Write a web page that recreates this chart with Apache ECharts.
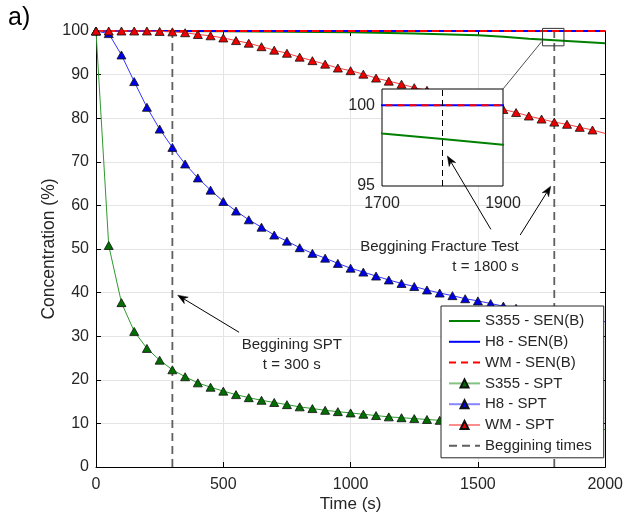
<!DOCTYPE html>
<html>
<head>
<meta charset="utf-8">
<script src="https://cdn.jsdelivr.net/npm/echarts@6/dist/echarts.min.js"></script>
<style>
  html, body { margin: 0; padding: 0; background: #fff; }
  #chart { width: 626px; height: 518px; }
</style>
</head>
<body>
<div id="chart"></div>
<script>
// Sampling times of the SPT curves (s)
const timeS = [0, 50, 100, 150, 200, 250, 300, 350, 400, 450, 500, 550, 600, 650, 700, 750, 800, 850, 900, 950,
  1000, 1050, 1100, 1150, 1200, 1250, 1300, 1350, 1400, 1450, 1500, 1550, 1600, 1650, 1700, 1750, 1800, 1850, 1900, 1950, 2000];
// Hydrogen concentration (%) during the SPT tests
const s355Spt = [100, 50.8, 37.7, 31.1, 27.2, 24.5, 22.3, 20.7, 19.3, 18.3, 17.4, 16.6, 15.9, 15.3, 14.8, 14.3, 13.8, 13.4, 13.0, 12.7,
  12.4, 12.1, 11.8, 11.5, 11.3, 11.1, 10.9, 10.7, 10.5, 10.3, 10.1, 9.9, 9.7, 9.6, 9.4, 9.3, 9.1, 9.0, 8.9, 8.7, 8.6];
const h8Spt = [100, 99.4, 94.5, 88.4, 82.5, 77.5, 73.3, 69.5, 66.3, 63.5, 60.9, 58.7, 56.7, 55.0, 53.2, 51.8, 50.3, 49.0, 47.9, 46.7,
  45.6, 44.7, 43.8, 42.9, 42.1, 41.4, 40.6, 39.9, 39.3, 38.6, 38.1, 37.5, 36.9, 36.4, 35.9, 35.4, 34.9, 34.5, 34.1, 33.7, 33.3];
const wmSpt = [100, 100, 100, 100, 100, 99.9, 99.8, 99.6, 99.2, 98.9, 98.4, 97.8, 97.2, 96.4, 95.6, 94.9, 94.0, 93.2, 92.4, 91.5,
  90.9, 90.1, 89.2, 88.5, 87.8, 87.0, 86.4, 85.6, 84.9, 84.1, 83.4, 82.7, 82.0, 81.3, 80.5, 79.8, 79.1, 78.6, 77.9, 77.3, 76.5];

// Sampling times and concentration (%) of the SEN(B) specimens
const senTime = [0, 250, 500, 750, 1000, 1250, 1500, 1600, 1700, 1800, 1900, 2000];
const s355Sen = [100, 100, 99.95, 99.85, 99.7, 99.45, 99.0, 98.7, 98.25, 97.9, 97.55, 97.2];
const h8Sen = [100, 100, 100, 100, 100, 100, 100, 100, 100, 100, 100, 100];
const wmSen = [100, 100, 100, 100, 100, 100, 100, 100, 100, 100, 100, 100];

// Start of each test (s)
const sptStart = 300;
const fractureStart = 1800;

const legendNames = ['S355 - SEN(B)', 'H8 - SEN(B)', 'WM - SEN(B)', 'S355 - SPT', 'H8 - SPT', 'WM - SPT', 'Beggining times'];

const FONT = 'Liberation Sans, Arial, Helvetica, sans-serif';
const TXT = '#262626';

const pairs = (xs, ys) => xs.map((x, i) => [x, ys[i]]);
// SPT markers stop at 1950 s; the curve itself runs to the axis end
const sptData = (ys) => timeS.map((t, i) => (t === 2000 ? { value: [t, ys[i]], symbol: 'none' } : [t, ys[i]]));
const plain = (v) => String(v);

const chart = echarts.init(document.getElementById('chart'), null, { renderer: 'canvas' });

const mainAxisX = {
  type: 'value', gridIndex: 0, min: 0, max: 2000, interval: 500,
  axisLine: { show: true, onZero: false, lineStyle: { color: '#000', width: 1 } },
  axisTick: { show: true, inside: true, length: 5, lineStyle: { color: '#000' } },
  splitLine: { show: true, lineStyle: { color: '#e4e4e4', width: 1 } }
};
const mainAxisY = {
  type: 'value', gridIndex: 0, min: 0, max: 100, interval: 10,
  axisLine: { show: true, onZero: false, lineStyle: { color: '#000', width: 1 } },
  axisTick: { show: true, inside: true, length: 5, lineStyle: { color: '#000' } },
  splitLine: { show: true, lineStyle: { color: '#e4e4e4', width: 1 } }
};

const option = {
  animation: false,
  backgroundColor: '#fff',
  textStyle: { fontFamily: FONT },
  grid: [
    { left: 96, top: 31, right: 18, bottom: 51, show: false },
    { left: 382, top: 89, width: 121, height: 97, show: true, backgroundColor: '#fff', borderColor: '#000', borderWidth: 1, z: 10 }
  ],
  xAxis: [
    Object.assign({}, mainAxisX, {
      position: 'bottom',
      name: 'Time (s)', nameLocation: 'middle', nameGap: 29, nameMoveOverlap: false,
      nameTextStyle: { fontSize: 17, color: TXT, fontFamily: FONT },
      axisLabel: { fontSize: 16, color: TXT, margin: 10, fontFamily: FONT, formatter: plain }
    }),
    Object.assign({}, mainAxisX, {
      position: 'top', axisLabel: { show: false }, splitLine: { show: false }
    }),
    {
      type: 'value', gridIndex: 1, min: 1700, max: 1900, interval: 100, z: 11,
      axisLine: { show: false }, axisTick: { show: false }, splitLine: { show: false },
      axisLabel: {
        fontSize: 16, color: TXT, margin: 10, fontFamily: FONT,
        formatter: (v) => (v === 1700 || v === 1900 ? String(v) : '')
      }
    }
  ],
  yAxis: [
    Object.assign({}, mainAxisY, {
      position: 'left',
      name: 'Concentration (%)', nameLocation: 'middle', nameGap: 38, nameRotate: 90, nameMoveOverlap: false,
      nameTextStyle: { fontSize: 17.5, color: TXT, fontFamily: FONT },
      axisLabel: { fontSize: 16, color: TXT, margin: 7, fontFamily: FONT, formatter: plain }
    }),
    Object.assign({}, mainAxisY, {
      position: 'right', axisLabel: { show: false }, splitLine: { show: false }
    }),
    {
      type: 'value', gridIndex: 1, min: 95, max: 101, interval: 5, z: 11,
      axisLine: { show: false }, axisTick: { show: false }, splitLine: { show: false },
      axisLabel: {
        fontSize: 16, color: TXT, margin: 7, fontFamily: FONT,
        formatter: (v) => (v === 95 || v === 100 ? String(v) : '')
      }
    }
  ],
  legend: {
    data: legendNames.map((n) => (n.indexOf('SEN') >= 0 || n === 'Beggining times')
      ? { name: n, itemStyle: { opacity: 0 } } : { name: n, lineStyle: { opacity: 0.6 } }),
    orient: 'vertical',
    left: 441, top: 306,
    itemWidth: 31, itemHeight: 10, itemGap: 2.8,
    padding: [6, 12, 3, 7],
    backgroundColor: '#fff', borderColor: '#262626', borderWidth: 1, borderRadius: 0,
    textStyle: { fontSize: 15, color: TXT, fontFamily: FONT, lineHeight: 18 },
    selectedMode: false
  },
  series: [
    {
      name: 'Beggining times', type: 'line', xAxisIndex: 0, yAxisIndex: 0, symbol: 'none', clip: false, z: 1,
      data: [[sptStart, 0], [sptStart, 100]],
      lineStyle: { color: '#5f5f5f', width: 1.8, type: [8, 5] }
    },
    {
      name: 'Beggining times', type: 'line', xAxisIndex: 0, yAxisIndex: 0, symbol: 'none', clip: false, z: 1,
      data: [[fractureStart, 0], [fractureStart, 100]],
      lineStyle: { color: '#5f5f5f', width: 1.8, type: [8, 5] }
    },
    {
      name: 'S355 - SEN(B)', type: 'line', xAxisIndex: 0, yAxisIndex: 0, symbol: 'none', clip: false,
      data: pairs(senTime, s355Sen), lineStyle: { color: '#008000', width: 2 }, itemStyle: { color: '#008000' }
    },
    {
      name: 'H8 - SEN(B)', type: 'line', xAxisIndex: 0, yAxisIndex: 0, symbol: 'none', clip: false,
      data: pairs(senTime, h8Sen), lineStyle: { color: '#0000ff', width: 2 }, itemStyle: { color: '#0000ff' }
    },
    {
      name: 'WM - SEN(B)', type: 'line', xAxisIndex: 0, yAxisIndex: 0, symbol: 'none', clip: false,
      data: pairs(senTime, wmSen), lineStyle: { color: '#ff0000', width: 2, type: [7, 5] }, itemStyle: { color: '#ff0000' }
    },
    {
      name: 'S355 - SPT', type: 'line', xAxisIndex: 0, yAxisIndex: 0, clip: false, z: 3,
      symbol: 'triangle', symbolSize: [9, 8], showAllSymbol: true,
      data: sptData(s355Spt),
      lineStyle: { color: '#2e9a2e', width: 1 },
      itemStyle: { color: '#006f00', borderColor: '#111', borderWidth: 0.8 }
    },
    {
      name: 'H8 - SPT', type: 'line', xAxisIndex: 0, yAxisIndex: 0, clip: false, z: 3,
      symbol: 'triangle', symbolSize: [9, 8], showAllSymbol: true,
      data: sptData(h8Spt),
      lineStyle: { color: '#3535ff', width: 1 },
      itemStyle: { color: '#0000e6', borderColor: '#111', borderWidth: 0.8 }
    },
    {
      name: 'WM - SPT', type: 'line', xAxisIndex: 0, yAxisIndex: 0, clip: false, z: 3,
      symbol: 'triangle', symbolSize: [9, 8], showAllSymbol: true,
      data: sptData(wmSpt),
      lineStyle: { color: '#ff3f3f', width: 1 },
      itemStyle: { color: '#ee0000', borderColor: '#111', borderWidth: 0.8 }
    },
    // Detail view around the fracture test start
    {
      name: 'inset S355', type: 'line', xAxisIndex: 2, yAxisIndex: 2, symbol: 'none', z: 12,
      data: pairs(senTime, s355Sen), lineStyle: { color: '#008000', width: 2 }
    },
    {
      name: 'inset H8', type: 'line', xAxisIndex: 2, yAxisIndex: 2, symbol: 'none', z: 12,
      data: pairs(senTime, h8Sen), lineStyle: { color: '#0000ff', width: 2 }
    },
    {
      name: 'inset WM', type: 'line', xAxisIndex: 2, yAxisIndex: 2, symbol: 'none', z: 12,
      data: pairs(senTime, wmSen), lineStyle: { color: '#ff0000', width: 2, type: [7, 5] }
    },
    {
      name: 'inset start', type: 'line', xAxisIndex: 2, yAxisIndex: 2, symbol: 'none', z: 12,
      data: [[fractureStart, 95], [fractureStart, 101]], lineStyle: { color: '#000', width: 1, type: [6, 4] }
    }
  ]
};

chart.setOption(option);

// Annotations placed from data coordinates
const toMain = (p) => chart.convertToPixel({ gridIndex: 0 }, p);
const toInset = (p) => chart.convertToPixel({ gridIndex: 1 }, p);

function arrow(p0, p1) {
  const dx = p1[0] - p0[0], dy = p1[1] - p0[1];
  const L = Math.hypot(dx, dy), ux = dx / L, uy = dy / L;
  const hl = 10, hw = 3.8;
  const bx = p1[0] - ux * hl, by = p1[1] - uy * hl;
  const nx = p1[0] - ux * (hl - 3), ny = p1[1] - uy * (hl - 3);
  return [
    { type: 'line', z: 20, shape: { x1: p0[0], y1: p0[1], x2: nx, y2: ny }, style: { stroke: '#000', lineWidth: 1 } },
    { type: 'polygon', z: 20, shape: { points: [p1, [bx - uy * hw, by + ux * hw], [nx, ny], [bx + uy * hw, by - ux * hw]] },
      style: { fill: '#000', stroke: '#000', lineWidth: 0.5 } }
  ];
}

const zoomA = toMain([1754, 100.6]);
const zoomB = toMain([1838, 96.6]);
const graphics = [
  { type: 'text', z: 20, left: 8, top: 6, style: { text: 'a)', fontSize: 25, fontFamily: FONT, fill: '#000' } },
  { type: 'rect', z: 20, shape: { x: zoomA[0], y: zoomA[1], width: zoomB[0] - zoomA[0], height: zoomB[1] - zoomA[1] },
    style: { fill: 'none', stroke: '#333', lineWidth: 1 } },
  (function () {
    const a = toMain([1751, 97.6]);
    const b = toInset([1900, 101]);
    return { type: 'line', z: 20, shape: { x1: a[0], y1: a[1], x2: b[0], y2: b[1] }, style: { stroke: '#222', lineWidth: 0.8 } };
  })(),
  (function () {
    const p = toMain([769, 25.7]);
    return { type: 'text', z: 20, x: p[0], y: p[1],
      style: { text: 'Beggining SPT\nt = 300 s', fontSize: 15, fontFamily: FONT, fill: TXT, align: 'center', verticalAlign: 'middle', lineHeight: 20 } };
  })(),
  (function () {
    const p = toMain([1660, 48.3]);
    return { type: 'text', z: 20, x: p[0], y: p[1],
      style: { text: 'Beggining Fracture Test\nt = 1800 s', fontSize: 15, fontFamily: FONT, fill: TXT, align: 'right', verticalAlign: 'middle', lineHeight: 20 } };
  })()
]
  .concat(arrow(toMain([562, 30.9]), toMain([321, 39.4])))
  .concat(arrow(toMain([1551, 54.5]), toInset([1808, 96.86])))
  .concat(arrow(toMain([1666, 53.2]), toMain([1786, 64.4])));

chart.setOption({ graphic: graphics });
</script>
</body>
</html>
